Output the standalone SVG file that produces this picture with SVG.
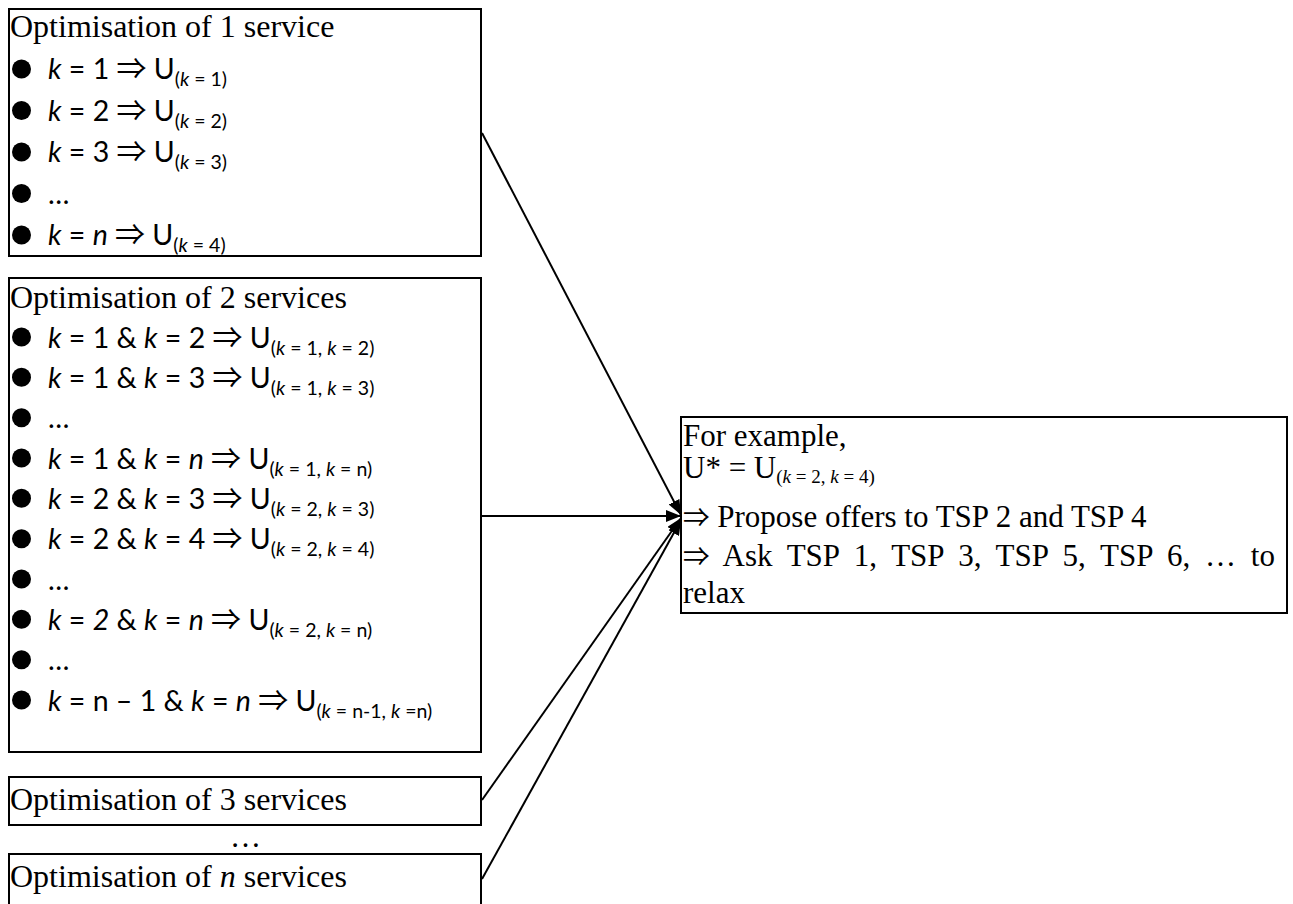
<svg xmlns="http://www.w3.org/2000/svg" width="1293" height="904" viewBox="0 0 1293 904">
<style>
.box{fill:#fff;stroke:#000;stroke-width:2}
.ser{font-family:"Liberation Serif","Times New Roman",serif;font-size:31px;fill:#000}
.t{font-size:32px}
.sans{font-family:Lato,"Liberation Sans",sans-serif;font-size:28.5px;fill:#000}
.ar{font-family:"Noto Sans CJK JP","DejaVu Sans",sans-serif;font-size:30px;font-style:normal}
.ar2{font-size:26.5px}
.sub{font-size:19.5px}
.ssub{font-size:19px}
.i{font-style:italic}
.conn line{stroke:#000;stroke-width:2;fill:none}
</style>
<defs>
<marker id="ah" viewBox="0 0 15 12" refX="15" refY="6" markerWidth="15" markerHeight="12" markerUnits="userSpaceOnUse" orient="auto">
<path d="M0,0 L15,6 L0,12 Z" fill="#000"/>
</marker>
<circle id="b" r="9.5" fill="#000"/>
</defs>
<rect width="1293" height="904" fill="#fff"/>

<g id="node1">
<rect class="box" x="9" y="9" width="472" height="247"/>
<text class="ser t" x="10" y="37">Optimisation of 1 service</text>
<use href="#b" x="21.5" y="69"/>
<use href="#b" x="21.5" y="110.5"/>
<use href="#b" x="21.5" y="152"/>
<use href="#b" x="21.5" y="193.5"/>
<use href="#b" x="21.5" y="235"/>
<text class="sans" x="48" y="79"><tspan class="i">k</tspan> = 1 <tspan class="ar">⇒</tspan> U<tspan class="sub" dy="7">(<tspan class="i">k</tspan> = 1)</tspan></text>
<text class="sans" x="48" y="120.5"><tspan class="i">k</tspan> = 2 <tspan class="ar">⇒</tspan> U<tspan class="sub" dy="7">(<tspan class="i">k</tspan> = 2)</tspan></text>
<text class="sans" x="48" y="162"><tspan class="i">k</tspan> = 3 <tspan class="ar">⇒</tspan> U<tspan class="sub" dy="7">(<tspan class="i">k</tspan> = 3)</tspan></text>
<text class="sans" x="48" y="203.5">…</text>
<text class="sans" x="48" y="245"><tspan class="i">k</tspan> = <tspan class="i">n</tspan> <tspan class="ar">⇒</tspan> U<tspan class="sub" dy="7">(<tspan class="i">k</tspan> = 4)</tspan></text>
</g>

<g id="node2">
<rect class="box" x="9" y="278" width="472" height="474"/>
<text class="ser t" x="10" y="308">Optimisation of 2 services</text>
<use href="#b" x="21.5" y="337"/>
<use href="#b" x="21.5" y="377.3"/>
<use href="#b" x="21.5" y="417.7"/>
<use href="#b" x="21.5" y="458"/>
<use href="#b" x="21.5" y="498.3"/>
<use href="#b" x="21.5" y="538.7"/>
<use href="#b" x="21.5" y="579"/>
<use href="#b" x="21.5" y="619.3"/>
<use href="#b" x="21.5" y="659.7"/>
<use href="#b" x="21.5" y="700"/>
<text class="sans" x="48" y="347.5"><tspan class="i">k</tspan> = 1 &amp; <tspan class="i">k</tspan> = 2 <tspan class="ar">⇒</tspan> U<tspan class="sub" dy="7">(<tspan class="i">k</tspan> = 1, <tspan class="i">k</tspan> = 2)</tspan></text>
<text class="sans" x="48" y="387.8"><tspan class="i">k</tspan> = 1 &amp; <tspan class="i">k</tspan> = 3 <tspan class="ar">⇒</tspan> U<tspan class="sub" dy="7">(<tspan class="i">k</tspan> = 1, <tspan class="i">k</tspan> = 3)</tspan></text>
<text class="sans" x="48" y="428.2">…</text>
<text class="sans" x="48" y="468.5"><tspan class="i">k</tspan> = 1 &amp; <tspan class="i">k</tspan> = <tspan class="i">n</tspan> <tspan class="ar">⇒</tspan> U<tspan class="sub" dy="7">(<tspan class="i">k</tspan> = 1, <tspan class="i">k</tspan> = n)</tspan></text>
<text class="sans" x="48" y="508.8"><tspan class="i">k</tspan> = 2 &amp; <tspan class="i">k</tspan> = 3 <tspan class="ar">⇒</tspan> U<tspan class="sub" dy="7">(<tspan class="i">k</tspan> = 2, <tspan class="i">k</tspan> = 3)</tspan></text>
<text class="sans" x="48" y="549.2"><tspan class="i">k</tspan> = 2 &amp; <tspan class="i">k</tspan> = 4 <tspan class="ar">⇒</tspan> U<tspan class="sub" dy="7">(<tspan class="i">k</tspan> = 2, <tspan class="i">k</tspan> = 4)</tspan></text>
<text class="sans" x="48" y="589.5">…</text>
<text class="sans" x="48" y="629.8"><tspan class="i">k</tspan> = <tspan class="i">2</tspan> &amp; <tspan class="i">k</tspan> = <tspan class="i">n</tspan> <tspan class="ar">⇒</tspan> U<tspan class="sub" dy="7">(<tspan class="i">k</tspan> = 2, <tspan class="i">k</tspan> = n)</tspan></text>
<text class="sans" x="48" y="670.2">…</text>
<text class="sans" x="48" y="710.5"><tspan class="i">k</tspan> = n – 1 &amp; <tspan class="i">k</tspan> = <tspan class="i">n</tspan> <tspan class="ar">⇒</tspan> U<tspan class="sub" dy="7">(<tspan class="i">k</tspan> = n-1, <tspan class="i">k</tspan> =n)</tspan></text>
</g>

<g id="node3">
<rect class="box" x="9" y="777" width="472" height="48"/>
<text class="ser t" x="10" y="810">Optimisation of 3 services</text>
</g>
<text class="ser" x="230" y="847">…</text>

<g id="node4">
<rect class="box" x="9" y="854" width="472" height="80"/>
<text class="ser t" x="10" y="887">Optimisation of <tspan class="i">n</tspan> services</text>
</g>

<g id="node5">
<rect class="box" x="681" y="417" width="606" height="196"/>
<text class="ser" x="683" y="446">For example,</text>
<text class="ser" x="683" y="478">U* = U<tspan class="ssub" dy="5">(<tspan class="i">k</tspan> = 2, <tspan class="i">k</tspan> = 4)</tspan></text>
<text class="ser" x="683" y="527"><tspan class="ar ar2">⇒</tspan> Propose offers to TSP 2 and TSP 4</text>
<text class="ser" x="683" y="566" word-spacing="7"><tspan class="ar ar2">⇒</tspan> Ask TSP 1, TSP 3, TSP 5, TSP 6, … to</text>
<text class="ser" x="683" y="603">relax</text>
</g>

<g id="connectors" class="conn">
<line x1="482" y1="133" x2="681" y2="515" marker-end="url(#ah)"/>
<line x1="482" y1="516" x2="681" y2="516" marker-end="url(#ah)"/>
<line x1="482" y1="800" x2="681" y2="518" marker-end="url(#ah)"/>
<line x1="482" y1="879" x2="681" y2="520" marker-end="url(#ah)"/>
</g>
</svg>
